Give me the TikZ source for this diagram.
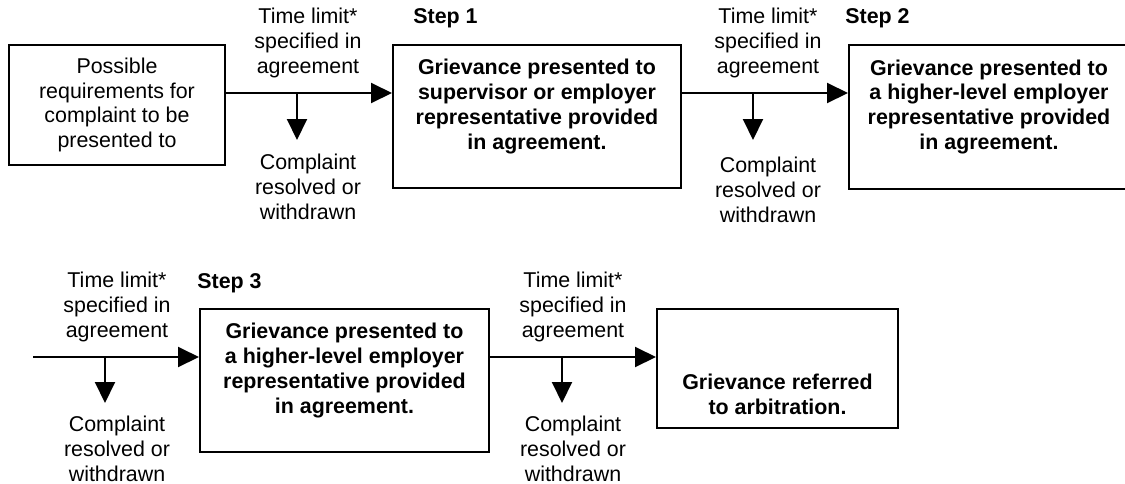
\documentclass[tikz,border=0pt]{standalone}
\usepackage{fontspec}
\setmainfont{Liberation Sans}
\usetikzlibrary{positioning, arrows.meta}

\begin{document}
\begin{tikzpicture}[
    x=0.5pt, y=-0.5pt,
    font=\fontsize{10.7}{12.4}\selectfont,
    box/.style={
        rectangle,
        draw=black,
        line width=1pt,
        align=center,
        inner sep=0pt
    },
    stepbox/.style={
        box,
        font=\fontsize{10.7}{12.4}\selectfont\bfseries
    },
    note/.style={
        align=center,
        inner sep=0pt
    },
    steplabel/.style={
        anchor=west,
        inner sep=0pt,
        font=\fontsize{10.7}{12.4}\selectfont\bfseries
    },
    arrow/.style={
        line width=1pt,
        -{Triangle[length=10.5pt, width=10pt]}
    }
]
\useasboundingbox (0,0) rectangle (1125,483);

% Nodes
\node[box, minimum width=108pt, minimum height=60pt] (poss) at (117,105)
    {Possible\\requirements for\\complaint to be\\presented to};
\node[stepbox, minimum width=144pt, minimum height=71.5pt] (step1) at (537,116.5)
    {Grievance presented to\\supervisor or employer\\representative provided\\in agreement.\\\mbox{}};
\node[stepbox, minimum width=140pt, minimum height=72pt] (step2) at (989,117)
    {Grievance presented to\\a higher-level employer\\representative provided\\in agreement.\\\mbox{}};
\node[stepbox, minimum width=144.5pt, minimum height=71.5pt] (step3) at (344.5,380.5)
    {Grievance presented to\\a higher-level employer\\representative provided\\in agreement.\\\mbox{}};
\node[stepbox, minimum width=120.5pt, minimum height=59.5pt] (arbit) at (777.5,368.5)
    {\mbox{}\\[21pt]Grievance referred\\to arbitration.};

\node[steplabel] (lab1) at (413,18) {Step 1};
\node[steplabel] (lab2) at (845,18) {Step 2};
\node[steplabel] (lab3) at (197,283) {Step 3};

\node[note] (time1) at (308,43) {Time limit*\\specified in\\agreement};
\node[note] (time2) at (768,43) {Time limit*\\specified in\\agreement};
\node[note] (time3) at (117,307) {Time limit*\\specified in\\agreement};
\node[note] (time4) at (573,307) {Time limit*\\specified in\\agreement};

\node[note] (res1) at (308,187) {Complaint\\resolved or\\withdrawn};
\node[note] (res2) at (768,190) {Complaint\\resolved or\\withdrawn};
\node[note] (res3) at (117,449) {Complaint\\resolved or\\withdrawn};
\node[note] (res4) at (573,449) {Complaint\\resolved or\\withdrawn};

% Rows and branch points
\coordinate (row1) at (0,93);
\coordinate (row2) at (0,357);
\coordinate (in3) at (33,357);
\coordinate (br1) at (297,93);
\coordinate (br2) at (753,93);
\coordinate (br3) at (105,357);
\coordinate (br4) at (562,357);
\coordinate (out1) at (297,140);
\coordinate (out2) at (753,140);
\coordinate (out3) at (105,403);
\coordinate (out4) at (562,403);

% Arrows
\draw[arrow] (poss.east |- row1) -- (step1.west |- row1);
\draw[arrow] (step1.east |- row1) -- (step2.west |- row1);
\draw[arrow] (in3) -- (step3.west |- row2);
\draw[arrow] (step3.east |- row2) -- (arbit.west |- row2);

\draw[arrow] (br1) -- (out1);
\draw[arrow] (br2) -- (out2);
\draw[arrow] (br3) -- (out3);
\draw[arrow] (br4) -- (out4);
\end{tikzpicture}
\end{document}
